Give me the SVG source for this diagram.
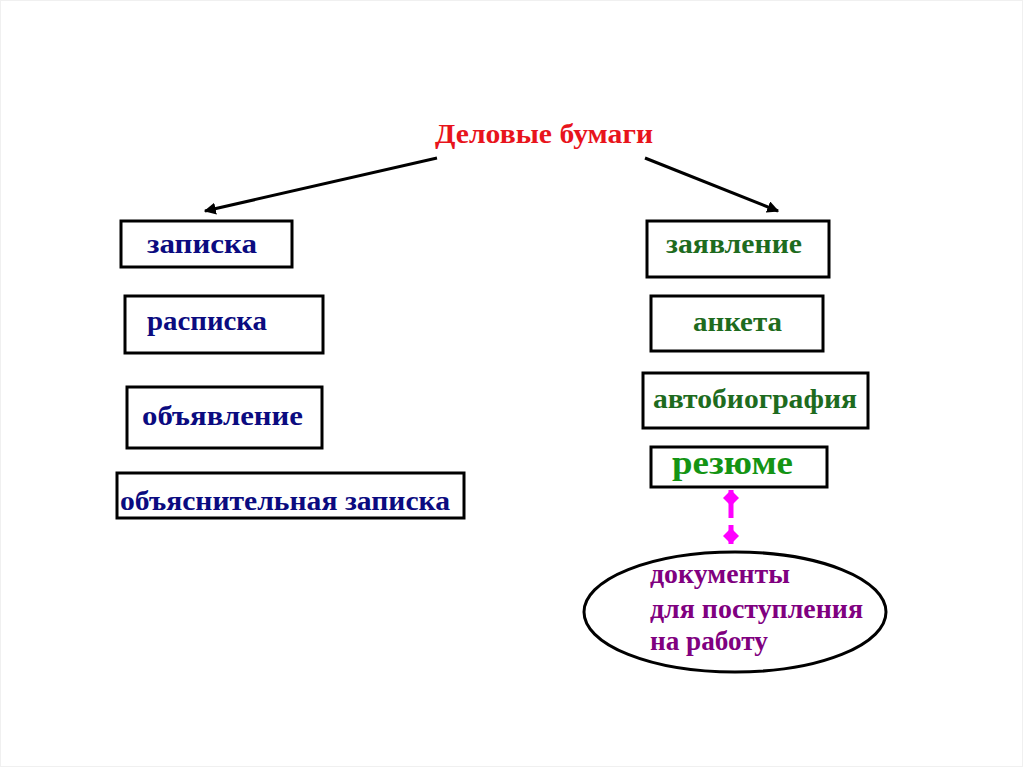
<svg xmlns="http://www.w3.org/2000/svg" width="1024" height="767" viewBox="0 0 1024 767">
<style>
.box{fill:#fff;stroke:#000;stroke-width:3}
.t{font-family:"Liberation Serif","Times New Roman",serif;font-weight:bold;font-size:27px}
.blue{fill:#0b0b80}
.green{fill:#1e6b1e}
.arr{stroke:#000;stroke-width:3;fill:none}
.mag{stroke:#ff00ff;stroke-width:5;fill:none}
</style>
<defs>
<marker id="ah" viewBox="0 0 10 10" refX="9" refY="5" markerWidth="4" markerHeight="4" orient="auto" markerUnits="strokeWidth">
<path d="M0,0 L10,5 L0,10 Z" fill="#000"/>
</marker>
<marker id="dm" viewBox="0 0 10 10" refX="10" refY="5" markerWidth="16" markerHeight="16" orient="auto" markerUnits="userSpaceOnUse">
<path d="M0,5 L5,0 L10,5 L5,10 Z" fill="#ff00ff"/>
</marker>
</defs>
<rect x="0" y="0" width="1024" height="767" fill="#fff"/>
<rect x="0.5" y="0.5" width="1022" height="766" fill="none" stroke="#f0f0f0"/>
<g id="title"><text class="t" x="435" y="143" fill="#e8141c" textLength="218" lengthAdjust="spacingAndGlyphs">Деловые бумаги</text></g>
<g id="connectors">
<line class="arr" x1="437" y1="158" x2="205" y2="211" marker-end="url(#ah)"/>
<line class="arr" x1="645" y1="158" x2="778" y2="211" marker-end="url(#ah)"/>
<line class="mag" x1="731" y1="518" x2="731" y2="490" marker-end="url(#dm)"/>
<line class="mag" x1="731" y1="525" x2="731" y2="544" marker-end="url(#dm)"/>
</g>
<g id="zapiska"><rect class="box" x="121" y="221" width="171" height="46"/><text class="t blue" x="147" y="253" textLength="110" lengthAdjust="spacingAndGlyphs">записка</text></g>
<g id="raspiska"><rect class="box" x="125" y="296" width="198" height="57"/><text class="t blue" x="147" y="330" textLength="120" lengthAdjust="spacingAndGlyphs">расписка</text></g>
<g id="obyavlenie"><rect class="box" x="127" y="387" width="195" height="61"/><text class="t blue" x="142" y="425" textLength="161" lengthAdjust="spacingAndGlyphs">объявление</text></g>
<g id="obyasnitelnaya"><rect class="box" x="117" y="473" width="347" height="45"/><text class="t blue" x="120" y="510" textLength="330" lengthAdjust="spacingAndGlyphs">объяснительная записка</text></g>
<g id="zayavlenie"><rect class="box" x="647" y="221" width="182" height="56"/><text class="t green" x="666" y="253" textLength="136" lengthAdjust="spacingAndGlyphs">заявление</text></g>
<g id="anketa"><rect class="box" x="651" y="296" width="172" height="55"/><text class="t green" x="693" y="331" textLength="89" lengthAdjust="spacingAndGlyphs">анкета</text></g>
<g id="avtobiografiya"><rect class="box" x="643" y="373" width="225" height="55"/><text class="t green" x="653" y="408" textLength="204" lengthAdjust="spacingAndGlyphs">автобиография</text></g>
<g id="rezyume"><rect class="box" x="651" y="447" width="176" height="40"/><text class="t" x="672" y="474" fill="#149414" style="font-size:34px" textLength="121" lengthAdjust="spacingAndGlyphs">резюме</text></g>
<g id="dokumenty"><ellipse cx="735" cy="612" rx="151" ry="60" fill="#fff" stroke="#000" stroke-width="3"/>
<text class="t" fill="#800080"><tspan x="650" y="583" textLength="140" lengthAdjust="spacingAndGlyphs">документы</tspan><tspan x="650" y="618" textLength="213" lengthAdjust="spacingAndGlyphs">для поступления</tspan><tspan x="650" y="650" textLength="118" lengthAdjust="spacingAndGlyphs">на работу</tspan></text></g>
</svg>
